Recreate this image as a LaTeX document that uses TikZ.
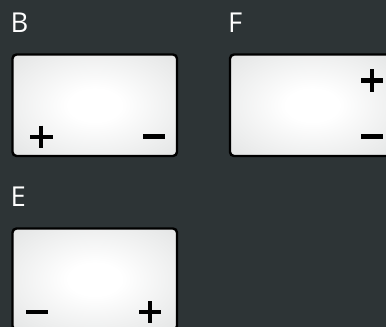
\documentclass[tikz,border=0pt]{standalone}
\usepackage{fontspec}
\setmainfont{Open Sans}
\definecolor{bgcol}{RGB}{45,52,54}
\definecolor{boxgray}{RGB}{216,218,218}
\pgfdeclareradialshading{boxshade}{\pgfpoint{0bp}{0bp}}{color(0bp)=(white); color(8bp)=(white); color(47bp)=(boxgray); color(50bp)=(boxgray)}
\begin{document}
\begin{tikzpicture}[x=1bp,y=-1bp,
  panel/.style={draw=black, line width=2.4bp, rounded corners=4bp, shading=boxshade, minimum width=164.5bp, minimum height=101.5bp, inner sep=0pt},
  lbl/.style={anchor=base west, inner sep=0pt, text=white, font=\fontsize{27.5}{30}\selectfont},
  sym/.style={line width=4.2bp, black}]
\useasboundingbox (0,0) rectangle (386,327);
\fill[bgcol] (0,0) rectangle (386,327);
% labels
\node[lbl] (lb) at (10.5,32.5) {B};
\node[lbl] (lf) at (228,32.5) {F};
\node[lbl] (le) at (10.5,206.5) {E};
% boxes
\node[panel] (bb) at (94.75,105.25) {};
\node[panel] (bf) at (312.25,105.25) {};
\node[panel] (be) at (94.75,279.25) {};
% B symbols
\draw[sym] (30,137) -- (52.5,137) (41.2,125.7) -- (41.2,148);
\draw[sym] (143,136.5) -- (165,136.5);
% F symbols
\draw[sym] (361,80.5) -- (383,80.5) (372,69) -- (372,92);
\draw[sym] (361,136.5) -- (383,136.5);
% E symbols
\draw[sym] (26,312) -- (48,312);
\draw[sym] (139,312) -- (161,312) (150,301) -- (150,323);
\end{tikzpicture}
\end{document}
